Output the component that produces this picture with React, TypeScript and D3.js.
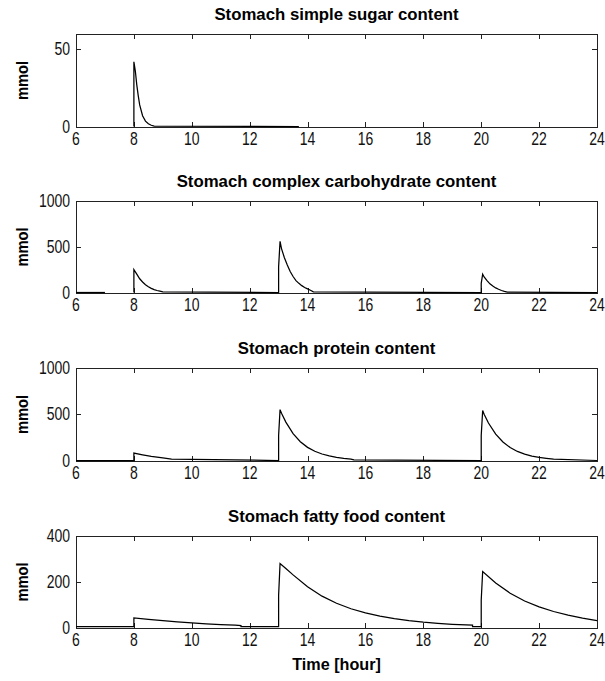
import React from "react";
import * as d3 from "d3";

type Pt = [number, number];

const xTicks = [6, 8, 10, 12, 14, 16, 18, 20, 22, 24];
const titles = [
  "Stomach simple sugar content",
  "Stomach complex carbohydrate content",
  "Stomach protein content",
  "Stomach fatty food content",
];
const yMax = [60, 1000, 1000, 400];
const yTicks = [[0, 50], [0, 500, 1000], [0, 500, 1000], [0, 200, 400]];

// simple sugar
const sugar1: Pt[] = [[8.0, 0], [8.0, 42], [8.05, 36], [8.1, 27], [8.15, 20], [8.2, 14], [8.3, 7], [8.4, 3.5], [8.5, 1.8], [8.6, 0.8], [8.7, 0.2], [13.7, 0]];

// complex carbohydrate
const carb1: Pt[] = [[6, 0], [7, 0]];
const carb2: Pt[] = [[8.0, 0], [8.0, 250], [8.1, 200], [8.2, 150], [8.3, 115], [8.4, 85], [8.5, 62], [8.6, 45], [8.7, 32], [8.8, 22], [8.9, 14], [9.0, 6], [13.0, 0], [13.0, 280], [13.05, 560], [13.1, 480], [13.2, 380], [13.3, 300], [13.4, 230], [13.5, 175], [13.6, 130], [13.7, 100], [13.8, 75], [13.9, 55], [14.0, 40], [14.1, 25], [14.2, 8], [20.0, 0], [20.0, 100], [20.05, 200], [20.1, 170], [20.2, 130], [20.3, 95], [20.4, 70], [20.5, 50], [20.6, 35], [20.7, 22], [20.8, 12], [20.9, 4], [24, 0]];

// protein
const prot1: Pt[] = [[6, 0], [8.0, 0], [8.0, 80], [8.3, 62], [8.6, 44], [9.0, 28], [9.3, 14], [13.0, 0], [13.0, 270], [13.05, 550], [13.1, 510], [13.25, 415], [13.5, 290], [13.75, 203], [14.0, 142], [14.25, 100], [14.5, 70], [14.75, 49], [15.0, 34], [15.25, 24], [15.5, 16], [15.6, 8], [20.0, 0], [20.0, 270], [20.05, 540], [20.1, 500], [20.25, 405], [20.5, 285], [20.75, 200], [21.0, 140], [21.25, 98], [21.5, 69], [21.75, 48], [22.0, 34], [22.25, 24], [22.5, 14], [24, 0]];

// fatty food
const fat1: Pt[] = [[6, 4], [8.0, 4], [8.0, 42], [8.5, 36], [9.0, 30], [9.5, 25], [10.0, 20], [10.5, 16], [11.0, 13], [11.5, 10], [11.7, 8], [11.7, 4], [13.0, 4], [13.0, 140], [13.05, 280], [13.25, 258], [13.5, 230], [14.0, 178], [14.5, 137], [15.0, 106], [15.5, 82], [16.0, 64], [16.5, 50], [17.0, 39], [17.5, 30], [18.0, 23], [18.5, 18], [19.0, 14], [19.7, 10], [19.7, 4], [20.0, 4], [20.0, 120], [20.05, 245], [20.5, 195], [21.0, 150], [21.5, 116], [22.0, 90], [22.5, 70], [23.0, 54], [23.5, 41], [24.0, 30]];

const series: Pt[][][] = [[sugar1], [carb1, carb2], [prot1], [fat1]];

const W = 605;
const H = 681;
const left = 76;
const right = 597;
const tops = [34, 201, 368, 536];
const bottoms = [127, 293, 461, 628];
const font = "'Liberation Sans', Arial, sans-serif";

export default function App() {
  const x = d3.scaleLinear().domain([6, 24]).range([left, right]);
  return (
    <svg width={W} height={H} style={{ position: "absolute", left: 0, top: 0, background: "#fff" }} fontFamily={font}>
      <rect x={0} y={0} width={W} height={H} fill="#fff" />
      {titles.map((t, i) => {
        const top = tops[i];
        const bot = bottoms[i];
        const y = d3.scaleLinear().domain([0, yMax[i]]).range([bot - 0.5, top]);
        const line = d3
          .line<Pt>()
          .x((d) => x(d[0]))
          .y((d) => y(d[1]));
        return (
          <g key={i}>
            <text
              transform={`translate(${(left + right) / 2},${top - 14}) scale(0.97,1)`}
              textAnchor="middle"
              fontSize={17.3}
              fontWeight="bold"
              fill="#000"
            >
              {t}
            </text>
            <text
              transform={`translate(28,${(top + bot) / 2}) rotate(-90) scale(0.92,1)`}
              textAnchor="middle"
              fontSize={16}
              fontWeight="bold"
              fill="#000"
            >
              mmol
            </text>
            <rect x={left + 0.5} y={top + 0.5} width={right - left} height={bot - top} fill="none" stroke="#222" strokeWidth={1} />
            {xTicks.map((v) => (
              <g key={"x" + v}>
                <line x1={Math.round(x(v)) + 0.5} x2={Math.round(x(v)) + 0.5} y1={bot} y2={bot - 5} stroke="#222" />
                <line x1={Math.round(x(v)) + 0.5} x2={Math.round(x(v)) + 0.5} y1={top} y2={top + 5} stroke="#222" />
                <text
                  transform={`translate(${x(v)},${bot + 18}) scale(0.8,1)`}
                  textAnchor="middle"
                  fontSize={17.5}
                  fill="#111"
                >
                  {v}
                </text>
              </g>
            ))}
            {yTicks[i].map((v) => (
              <g key={"y" + v}>
                <line x1={left} x2={left + 5} y1={Math.round(y(v)) + 0.5} y2={Math.round(y(v)) + 0.5} stroke="#222" />
                <line x1={right} x2={right - 5} y1={Math.round(y(v)) + 0.5} y2={Math.round(y(v)) + 0.5} stroke="#222" />
                <text
                  transform={`translate(${left - 6},${y(v) + 6}) scale(0.8,1)`}
                  textAnchor="end"
                  fontSize={17.5}
                  fill="#111"
                >
                  {v}
                </text>
              </g>
            ))}
            {series[i].map((s, j) => (
              <path key={j} d={line(s) || ""} fill="none" stroke="#000" strokeWidth={1.25} />
            ))}
          </g>
        );
      })}
      <text
        transform={`translate(${(left + right) / 2},670) scale(0.98,1)`}
        textAnchor="middle"
        fontSize={16.5}
        fontWeight="bold"
        fill="#000"
      >
        Time [hour]
      </text>
    </svg>
  );
}
